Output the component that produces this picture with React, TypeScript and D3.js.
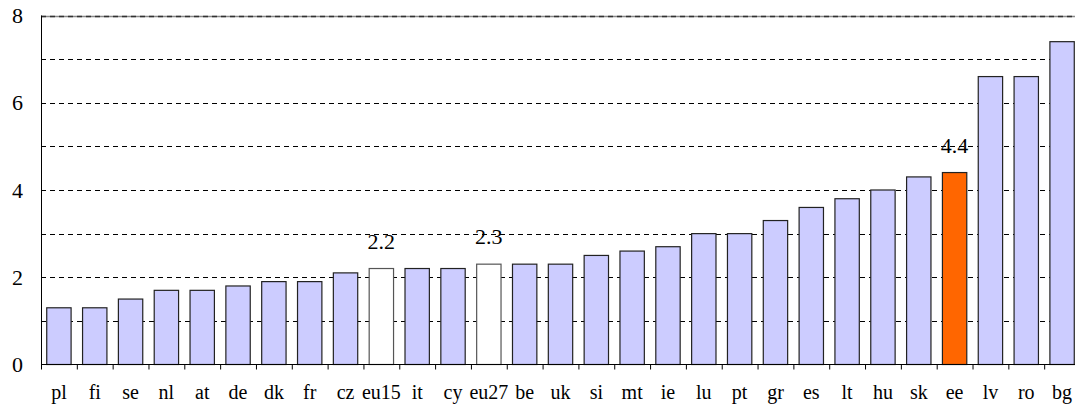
import React, { useEffect, useRef } from "react";
import * as d3 from "d3";

const categories = ["pl","fi","se","nl","at","de","dk","fr","cz","eu15","it","cy","eu27","be","uk","si","mt","ie","lu","pt","gr","es","lt","hu","sk","ee","lv","ro","bg"];
const values = [1.3,1.3,1.5,1.7,1.7,1.8,1.9,1.9,2.1,2.2,2.2,2.2,2.3,2.3,2.3,2.5,2.6,2.7,3.0,3.0,3.3,3.6,3.8,4.0,4.3,4.4,6.6,6.6,7.4];
const whiteBars = ["eu15","eu27"];
const highlightBars = ["ee"];
const labelledBars = ["eu15","eu27","ee"];
const yTicks = [0,2,4,6,8];
const gridValues = [1,2,3,4,5,6,7];

const W = 1075, H = 412;
const left = 41, right = 1080, top = 15.5, bottom = 364.5;

export default function App() {
  const ref = useRef<SVGSVGElement>(null);
  useEffect(() => {
    const svg = d3.select(ref.current);
    svg.selectAll("*").remove();
    const x = d3.scaleBand<string>().domain(categories).range([left, right]).paddingInner(0.32).paddingOuter(0.16);
    const y = d3.scaleLinear().domain([0, 8]).range([bottom, top]);
    const step = x.step();
    svg.append("style").text("text { font-family: 'Liberation Serif', serif; }");
    svg.append("rect").attr("width", W).attr("height", H).attr("fill", "#fff");
    svg.selectAll(".grid").data(gridValues).join("line")
      .attr("x1", left).attr("x2", W)
      .attr("y1", d => Math.round(y(d)) + 0.5).attr("y2", d => Math.round(y(d)) + 0.5)
      .attr("stroke", "#000").attr("stroke-dasharray", "5,4");
    const ty = Math.round(y(8)) + 0.5;
    svg.append("line").attr("x1", left).attr("x2", W).attr("y1", ty).attr("y2", ty).attr("stroke", "#888").attr("stroke-width", 1.5);
    svg.append("line").attr("x1", left).attr("x2", W).attr("y1", ty).attr("y2", ty).attr("stroke", "#333").attr("stroke-width", 1.5).attr("stroke-dasharray", "5,4");
    svg.selectAll(".bar").data(categories).join("rect")
      .attr("x", c => x(c)!)
      .attr("y", (c, i) => y(values[i]))
      .attr("width", x.bandwidth())
      .attr("height", (c, i) => bottom - y(values[i]))
      .attr("fill", c => highlightBars.includes(c) ? "#FF6600" : whiteBars.includes(c) ? "#FFFFFF" : "#CCCCFF")
      .attr("stroke", c => whiteBars.includes(c) ? "#555" : "#222")
      .attr("stroke-width", 1.2);
    svg.append("line").attr("x1", left + 0.5).attr("x2", left + 0.5).attr("y1", top).attr("y2", bottom).attr("stroke", "#000");
    svg.append("line").attr("x1", left).attr("x2", W).attr("y1", bottom).attr("y2", bottom).attr("stroke", "#000");
    svg.selectAll(".tick").data(categories).join("line")
      .attr("x1", (c, i) => left + i * step + 0.5).attr("x2", (c, i) => left + i * step + 0.5)
      .attr("y1", bottom).attr("y2", bottom + 5).attr("stroke", "#000");
    const g = svg.append("g").attr("font-family", "Liberation Serif").attr("fill", "#000");
    g.selectAll(".yl").data(yTicks).join("text")
      .attr("x", 23).attr("y", d => y(d) + 7.5).attr("text-anchor", "end").attr("font-size", 22)
      .style("font-family", "Liberation Serif")
      .text(d => String(d));
    g.selectAll(".xl").data(categories).join("text")
      .attr("x", c => x(c)! + x.bandwidth() / 2).attr("y", 399).attr("text-anchor", "middle").attr("font-size", 20)
      .style("font-family", "Liberation Serif")
      .text(c => c);
    const lab = categories.map((c, i) => ({ c, v: values[i] })).filter(d => labelledBars.includes(d.c));
    g.selectAll(".vl").data(lab).join("text")
      .attr("x", d => x(d.c)! + x.bandwidth() / 2).attr("y", d => y(d.v) - 20).attr("text-anchor", "middle").attr("font-size", 22)
      .style("font-family", "Liberation Serif")
      .text(d => d.v.toFixed(1));
  }, []);
  return <svg ref={ref} width={W} height={H} style={{ position: "absolute", left: 0, top: 0 }} />;
}
